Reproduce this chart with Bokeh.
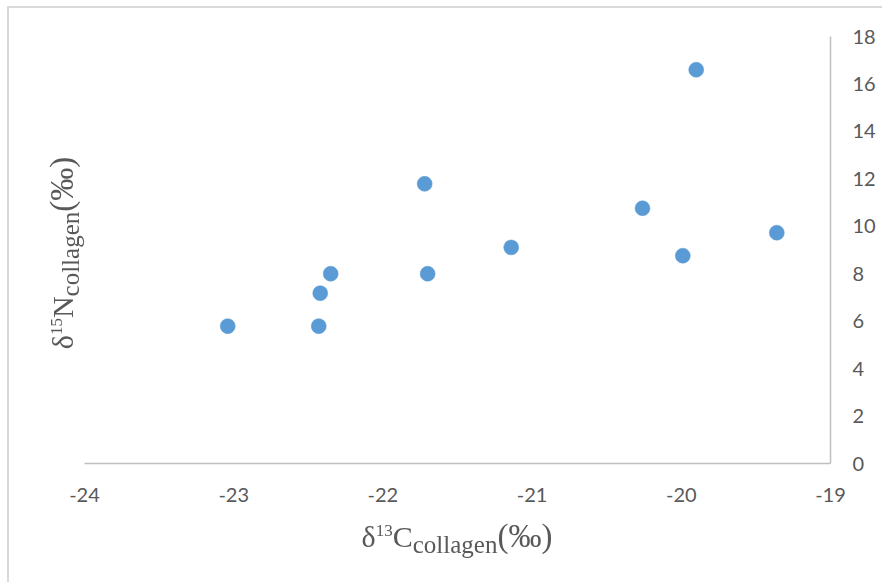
from bokeh.plotting import figure
from bokeh.models import Range1d, FixedTicker, Div
from bokeh.layouts import column
from bokeh.embed import file_html
from bokeh.resources import INLINE

# ---- data ----
d13c = [-23.04, -22.43, -22.42, -22.35, -21.72, -21.70, -21.14, -20.26, -19.99, -19.90, -19.36]
d15n = [5.79, 5.79, 7.18, 8.00, 11.79, 8.00, 9.11, 10.76, 8.76, 16.60, 9.73]
x_ticks = [-24, -23, -22, -21, -20, -19]
y_ticks = [0, 2, 4, 6, 8, 10, 12, 14, 16, 18]
x_title = ("δ", "13", "C", "collagen", "(‰)")   # base, superscript, base, subscript, unit
y_title = ("δ", "15", "N", "collagen", "(‰)")

W, H = 882, 581
FRAME_LEFT, FRAME_BOTTOM = 84, 463
AXIS_GREY = "#bfbfbf"
TEXT_GREY = "#595959"
DOT = "#5b9bd5"

p = figure(width=W, height=H, output_backend="svg", toolbar_location=None,
           x_range=Range1d(-24, -19), y_range=Range1d(0, 18),
           y_axis_location="right",
           min_border_left=FRAME_LEFT, min_border_top=36, min_border_right=52,
           min_border_bottom=H - FRAME_BOTTOM)
p.outline_line_color = None
p.grid.visible = False
p.background_fill_color = "white"
p.border_fill_color = "white"

for ax, ticks in ((p.xaxis, x_ticks), (p.yaxis, y_ticks)):
    ax.ticker = FixedTicker(ticks=ticks)
    ax.major_label_overrides = {t: str(t) for t in ticks}
    ax.axis_line_color = AXIS_GREY
    ax.axis_line_width = 1.5
    ax.major_tick_line_color = None
    ax.minor_tick_line_color = None
    ax.major_tick_in = 0
    ax.major_tick_out = 0
    ax.major_label_text_font = "Lato"
    ax.major_label_text_font_size = "20px"
    ax.major_label_text_color = TEXT_GREY
p.xaxis.major_label_standoff = 24
p.yaxis.major_label_standoff = 22

p.scatter(d13c, d15n, size=15, fill_color=DOT, line_color=DOT, line_width=0.5)


# ---- axis titles (rich text with super/subscripts) ----
def title_html(parts, style):
    base1, sup, base2, sub, unit = parts
    return (f'<div style="position:fixed;white-space:nowrap;font-family:\'Liberation Serif\';'
            f'font-size:30px;line-height:30px;color:{TEXT_GREY};{style}">'
            f'{base1}<span style="font-size:17px;line-height:0;position:relative;top:-11px;">{sup}</span>'
            f'{base2}<span style="font-size:25px;line-height:0;position:relative;top:6px;">{sub}</span>'
            f'<span style="font-size:33px;line-height:0;">{unit}</span></div>')

x_html = title_html(x_title, "left:457px;top:522px;transform:translateX(-50%);")
y_html = title_html(y_title, "left:63px;top:253px;transform-origin:center center;"
                             "transform:translate(-50%,-50%) rotate(-90deg);")
border_html = ('<div style="position:fixed;left:7px;top:6px;width:1000px;height:1000px;'
               'border:2px solid #d9d9d9;pointer-events:none;z-index:10;"></div>')

overlay = Div(text=x_html + y_html + border_html, width=1, height=1, margin=0)

open("out.html", "w").write(file_html(column(p, overlay, spacing=0), INLINE))
